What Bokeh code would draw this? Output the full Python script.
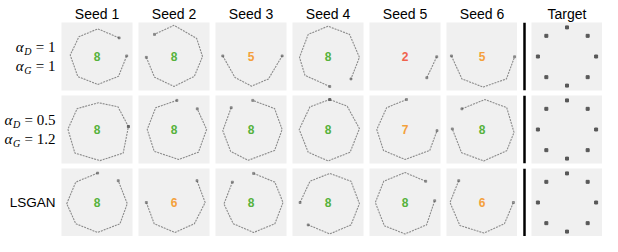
from bokeh.plotting import figure
from bokeh.layouts import column, row
from bokeh.models import Range1d, Span
from bokeh.core.properties import value
from bokeh.embed import file_html
from bokeh.resources import INLINE

# ---------------- data ----------------
SEEDS = ["Seed 1", "Seed 2", "Seed 3", "Seed 4", "Seed 5", "Seed 6"]
TARGET_TITLE = "Target"

# row labels: (greek, subscript, rhs) pairs; LSGAN plain
ROW1_LABEL = [("α", "D", "= 1"), ("α", "G", "= 1")]
ROW2_LABEL = [("α", "D", "= 0.5"), ("α", "G", "= 1.2")]
ROW3_LABEL = "LSGAN"

# number of modes recovered per panel
COUNTS_ROW1 = [8, 8, 5, 8, 2, 5]
COUNTS_ROW2 = [8, 8, 8, 8, 7, 8]
COUNTS_ROW3 = [8, 6, 8, 8, 8, 6]

# generated-sample rings (vertices, unit-circle scale)
RINGS_ROW1 = [
    [(0.76, 0.64), (0.03, 0.95), (-0.62, 0.68), (-0.92, 0.05), (-0.66, -0.69), (0.03, -0.96), (0.74, -0.68), (1.02, 0.02)],
    [(-0.95, -0.03), (-0.67, -0.71), (0.0, -1.03), (0.7, -0.68), (0.98, 0.0), (0.78, 0.62), (0.0, 1.07), (-0.67, 0.76)],
    [(-0.97, 0.02), (-0.55, -0.72), (0.02, -1.02), (0.6, -0.77), (1.07, 0.02)],
    [(0.06, -1.03), (-0.79, -0.65), (-0.98, -0.03), (-0.68, 0.76), (0.0, 1.04), (0.74, 0.76), (1.08, -0.03), (0.79, -0.77)],
    [(1.09, -0.01), (0.75, -0.73)],
    [(-1.05, 0.02), (-0.69, -0.77), (0.04, -1.05), (0.84, -0.77), (1.12, -0.01)],
]
RINGS_ROW2 = [
    [(1.08, 0.1), (0.72, 0.78), (0.05, 0.92), (-0.68, 0.72), (-1.0, 0.01), (-0.76, -0.81), (0.1, -1.07), (0.9, -0.81), (1.08, 0.1)],
    [(0.1, 1.0), (-0.63, 0.75), (-0.92, 0.0), (-0.68, -0.75), (0.16, -1.03), (0.84, -0.78), (1.12, 0.0), (0.8, 0.71)],
    [(-0.68, 0.75), (-0.97, -0.04), (-0.7, -0.75), (-0.1, -1.06), (0.81, -0.72), (1.07, 0.0), (0.81, 0.72), (0.06, 1.0)],
    [(0.06, 1.03), (-0.62, 0.78), (-0.99, 0.0), (-0.68, -0.78), (0.0, -1.08), (0.76, -0.78), (1.08, 0.03), (0.66, 0.8), (0.06, 1.03)],
    [(0.05, 1.03), (-0.63, 0.75), (-0.97, 0.0), (-0.74, -0.72), (0.0, -1.03), (0.85, -0.72), (1.1, -0.04)],
    [(-0.69, 0.71), (0.1, 1.03), (0.85, 0.75), (1.1, -0.1), (0.85, -0.73), (0.06, -1.08), (-0.7, -0.8), (-1.02, 0.02)],
]
RINGS_ROW3 = [
    [(0.02, 1.01), (-0.73, 0.7), (-1.04, -0.04), (-0.73, -0.73), (0.02, -1.03), (0.79, -0.73), (1.04, -0.04), (0.73, 0.75)],
    [(-0.95, 0.0), (-0.68, -0.73), (0.03, -1.03), (0.7, -0.73), (1.07, 0.0), (0.79, 0.75)],
    [(-0.64, 0.7), (-0.93, -0.05), (-0.61, -0.73), (0.09, -1.03), (0.82, -0.73), (1.1, 0.0), (0.82, 0.7), (0.09, 1.0)],
    [(-0.96, 0.0), (-0.62, 0.73), (0.06, 1.0), (0.79, 0.73), (1.08, -0.04), (0.79, -0.77), (0.06, -1.08), (-0.68, -0.77)],
    [(0.71, 0.73), (0.0, 1.03), (-0.73, 0.73), (-1.02, 0.0), (-0.71, -0.8), (0.0, -1.08), (0.74, -0.77), (1.02, 0.06)],
    [(-0.8, 0.75), (-1.1, 0.0), (-0.76, -0.79), (0.07, -1.05), (0.77, -0.73), (1.08, 0.0)],
]

# target: 8 gaussian modes on a circle
TARGET_X = [1.0, 0.71, 0.0, -0.71, -1.0, -0.71, 0.0, 0.71]
TARGET_Y = [0.0, 0.71, 1.0, 0.71, 0.0, -0.71, -1.0, -0.71]

# ---------------- layout / style ----------------
LABEL_W = 61
PANEL_W = 71
GAP_X = 6
SEP_W = 14
PANEL_H = 68
GAP_Y = 5
HEADER_H = 22
PX_PER_UNIT = 29.1
XR = (PANEL_W / 2) / PX_PER_UNIT
YR = (PANEL_H / 2) / PX_PER_UNIT

BG = "#f0f0f0"
RING_COLOR = "#606060"
GREEN = "#56b23c"
ORANGE = "#f4a03b"
RED = "#f0624d"
SANS = "Liberation Sans"
SERIF = "Liberation Serif"
MATH_SIZE = 15


def count_color(n):
    if n >= 8:
        return GREEN
    if n >= 5:
        return ORANGE
    return RED


def base_fig(w, h, xr, yr, rb=0, bb=0, bg="white"):
    p = figure(width=w, height=h, x_range=xr, y_range=yr,
               output_backend="svg", toolbar_location=None,
               x_axis_location=None, y_axis_location=None,
               min_border_left=0, min_border_top=0,
               min_border_right=rb, min_border_bottom=bb,
               background_fill_color=bg, border_fill_color="white",
               outline_line_color=None)
    p.grid.visible = False
    return p


def ring_panel(ring, count, rb, bb):
    p = base_fig(PANEL_W + rb, PANEL_H + bb, Range1d(-XR, XR), Range1d(-YR, YR), rb, bb, BG)
    xs = [v[0] for v in ring]
    ys = [v[1] for v in ring]
    p.line(xs, ys, line_color=RING_COLOR, line_width=1.1, line_alpha=0.7, line_dash="2 1")
    p.scatter([xs[0], xs[-1]], [ys[0], ys[-1]], marker="square", size=2,
              color="#555555", alpha=0.5)
    p.text(x=[0], y=[0], text=[str(count)], text_align="center", text_baseline="middle",
           text_font=value(SANS), text_font_style="bold", text_font_size="12px",
           text_color=count_color(count))
    return p


def target_panel(bb):
    p = base_fig(PANEL_W, PANEL_H + bb, Range1d(-XR, XR), Range1d(-YR, YR), 0, bb, BG)
    p.scatter(TARGET_X, TARGET_Y, marker="square", size=3, color="#585858")
    return p


def sep_fig(h):
    p = base_fig(SEP_W, h, Range1d(0, SEP_W), Range1d(0, 1))
    p.add_layout(Span(location=SEP_W / 2, dimension="height", line_color="black", line_width=2.5))
    return p


CHAR_W = {"=": 0.564, " ": 0.25, ".": 0.25}


def text_w(s, size):
    return sum(CHAR_W.get(c, 0.5) * size for c in s)


def label_fig(lines, bb):
    p = base_fig(LABEL_W, PANEL_H + bb, Range1d(0, LABEL_W), Range1d(-YR, YR), 0, bb)
    right = LABEL_W - 6
    if isinstance(lines, str):
        p.text(x=[right], y=[0], text=[lines], text_align="right", text_baseline="middle",
               text_font=value(SANS), text_font_size="13.5px", text_color="black")
        return p
    ypos = [9.5 / PX_PER_UNIT, -9.5 / PX_PER_UNIT]
    for (greek, sub, rhs), y in zip(lines, ypos):
        x0 = right - (20 + text_w(rhs, MATH_SIZE))
        p.text(x=[x0], y=[y], text=[greek], text_align="left", text_baseline="middle",
               text_font=value(SERIF), text_font_style="italic", text_font_size=f"{MATH_SIZE}px",
               text_color="black")
        p.text(x=[x0 + 8.5], y=[y], y_offset=4, text=[sub], text_align="left",
               text_baseline="middle", text_font=value(SERIF), text_font_style="italic",
               text_font_size="10px", text_color="black")
        p.text(x=[x0 + 20], y=[y], text=[rhs], text_align="left", text_baseline="middle",
               text_font=value(SERIF), text_font_size=f"{MATH_SIZE}px", text_color="black")
    return p


TOTAL_W = LABEL_W + 5 * (PANEL_W + GAP_X) + PANEL_W + SEP_W + PANEL_W

# header with column titles
header = base_fig(TOTAL_W, HEADER_H, Range1d(0, TOTAL_W), Range1d(0, HEADER_H))
centers = [LABEL_W + i * (PANEL_W + GAP_X) + PANEL_W / 2 for i in range(6)]
centers.append(LABEL_W + 5 * (PANEL_W + GAP_X) + PANEL_W + SEP_W + PANEL_W / 2)
header.text(x=centers, y=[HEADER_H - 13] * 7, text=SEEDS + [TARGET_TITLE],
            text_align="center", text_baseline="alphabetic",
            text_font=value(SANS), text_font_size="14px", text_color="black")

rows = []
for ri, (label, rings, counts) in enumerate([(ROW1_LABEL, RINGS_ROW1, COUNTS_ROW1),
                                             (ROW2_LABEL, RINGS_ROW2, COUNTS_ROW2),
                                             (ROW3_LABEL, RINGS_ROW3, COUNTS_ROW3)]):
    bb = GAP_Y if ri < 2 else 0
    children = [label_fig(label, bb)]
    for ci in range(6):
        rb = GAP_X if ci < 5 else 0
        children.append(ring_panel(rings[ci], counts[ci], rb, bb))
    children.append(sep_fig(PANEL_H + bb))
    children.append(target_panel(bb))
    rows.append(row(*children, spacing=0))

layout = column(header, *rows, spacing=0)

open("out.html", "w").write(file_html(layout, INLINE))
